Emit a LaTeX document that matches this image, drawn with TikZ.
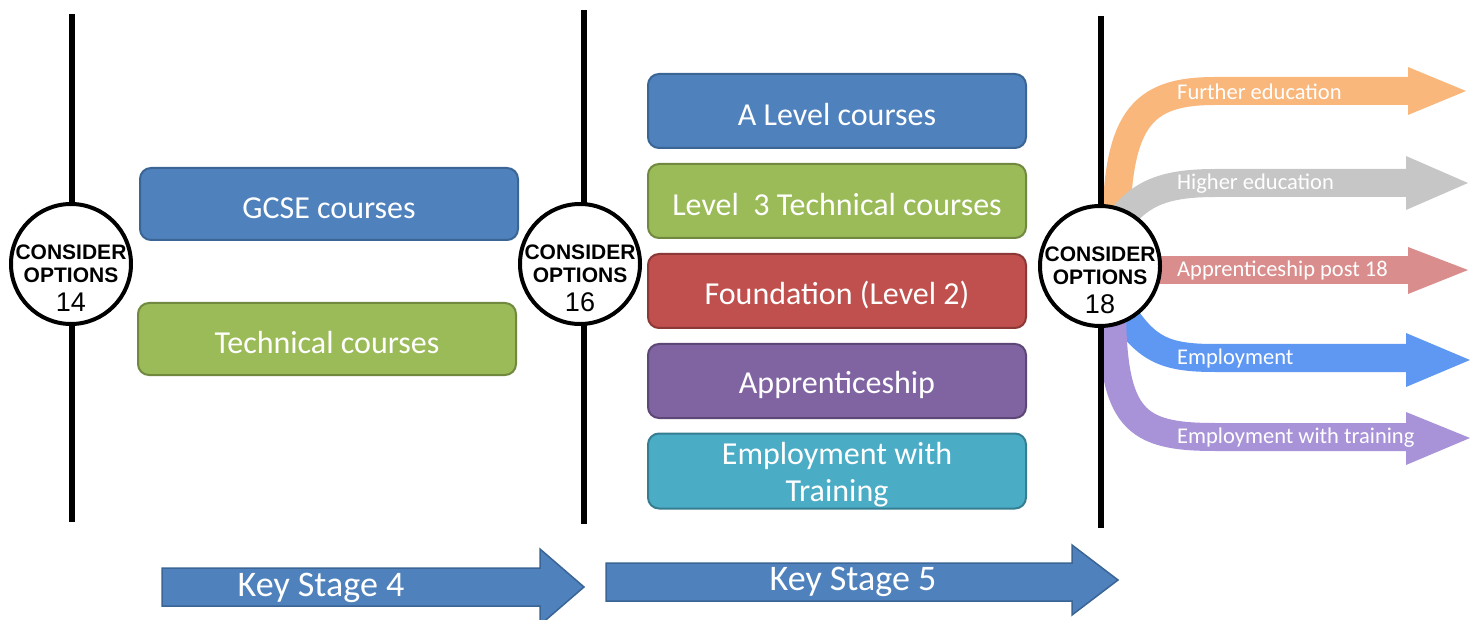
\documentclass[tikz,border=0pt]{standalone}
\usepackage{fontspec}
\setmainfont{Carlito}
\newfontfamily\arialfont{Liberation Sans}
\usetikzlibrary{positioning}
\definecolor{cBlue}{HTML}{4F81BD}\definecolor{cBlueB}{HTML}{3A6595}
\definecolor{cGreen}{HTML}{9BBB59}\definecolor{cGreenB}{HTML}{71893F}
\definecolor{cRed}{HTML}{C0504D}\definecolor{cRedB}{HTML}{8C3836}
\definecolor{cPurple}{HTML}{8064A2}\definecolor{cPurpleB}{HTML}{5C4776}
\definecolor{cTeal}{HTML}{4BACC6}\definecolor{cTealB}{HTML}{357D91}
\definecolor{aOrange}{HTML}{F9B77C}
\definecolor{aGray}{HTML}{C6C6C6}
\definecolor{aPink}{HTML}{D98D8C}
\definecolor{aBlue}{HTML}{5E98F2}
\definecolor{aLav}{HTML}{A892D8}
\newcommand{\dn}[1]{\raisebox{-4pt}[\height][\depth]{#1}}
\begin{document}
\begin{tikzpicture}[x=1pt,y=-1pt,
  box/.style={rounded corners=11pt, line width=2pt, minimum width=378pt, minimum height=74pt,
    text=white, font=\fontsize{32}{38}\selectfont, align=center, inner sep=0pt},
  timeline/.style={line width=6pt, black},
  optcircle/.style={circle, draw=black, line width=4pt, fill=white, minimum size=120pt, inner sep=0pt},
  band/.style={line width=28pt},
  bandtext/.style={anchor=west, text=white, font=\fontsize{22.5}{24}\selectfont, inner sep=0pt},
  ksarrow/.style={fill=cBlue, draw=cBlueB, line width=1.5pt},
  kstext/.style={text=white, font=\fontsize{36}{38}\selectfont, inner sep=0pt},
  ctext/.style={font=\arialfont\bfseries\fontsize{21}{22}\selectfont, inner sep=0pt},
  cnum/.style={font=\arialfont\fontsize{27}{28}\selectfont, inner sep=0pt}
]
\useasboundingbox (0,0) rectangle (1470,620);

% ---- right-hand branching arrows ----
\draw[band, aOrange] (1116,240) .. controls (1116,120) and (1140,91) .. (1215,91) -- (1412,91);
\fill[aOrange] (1408,67) -- (1466,91) -- (1408,115) -- cycle;
\draw[band, aGray] (1112,232) .. controls (1135,195) and (1160,183) .. (1215,183) -- (1412,183);
\fill[aGray] (1406,156) -- (1468,183) -- (1406,210) -- cycle;
\draw[band, aPink] (1140,270) -- (1412,270);
\fill[aPink] (1408,247) -- (1468,270) -- (1408,294) -- cycle;
\draw[band, aBlue] (1118,305) .. controls (1145,350) and (1165,358) .. (1215,358) -- (1412,358);
\fill[aBlue] (1406,333) -- (1470,360) -- (1406,387) -- cycle;
\draw[band, aLav] (1112,305) .. controls (1112,420) and (1135,437) .. (1215,437) -- (1412,437);
\fill[aLav] (1406,412) -- (1470,438) -- (1406,465) -- cycle;
\node[bandtext] (fe) at (1177,92) {Further education};
\node[bandtext] (he) at (1177,184) {Higher education};
\node[bandtext] (ap) at (1177,271) {Apprenticeship post 18};
\node[bandtext] (em) at (1177,359) {Employment};
\node[bandtext] (ew) at (1177,438) {Employment with training};

% ---- timelines ----
\coordinate (l1t) at (72,14); \coordinate (l1b) at (72,522);
\coordinate (l2t) at (584,10); \coordinate (l2b) at (584,524);
\coordinate (l3t) at (1101,16); \coordinate (l3b) at (1101,528);
\draw[timeline] (l1t) -- (l1b);
\draw[timeline] (l2t) -- (l2b);
\draw[timeline] (l3t) -- (l3b);

% ---- circles ----
\node[optcircle] (c14) at (71,264) {};
\node[optcircle] (c16) at (580,264) {};
\node[optcircle] (c18) at (1100,266) {};
\foreach \n/\num in {c14/14, c16/16, c18/18}{
  \node[ctext] at ([yshift=12pt]\n.center) {CONSIDER};
  \node[ctext] at ([yshift=-11pt]\n.center) {OPTIONS};
  \node[cnum] at ([yshift=-38pt]\n.center) {\num};
}

% ---- boxes ----
\node[box, fill=cBlue, draw=cBlueB, minimum height=72pt] (gcse) at (329,204) {\dn{GCSE courses}};
\node[box, fill=cGreen, draw=cGreenB, minimum height=72pt] (tech) at (327,339) {\dn{Technical courses}};
\node[box, fill=cBlue, draw=cBlueB] (alev) at (837,111) {\dn{A Level courses}};
\node[box, fill=cGreen, draw=cGreenB] (l3) at (837,201) {\dn{Level\ \ 3 Technical courses}};
\node[box, fill=cRed, draw=cRedB] (found) at (837,291) {\dn{Foundation (Level 2)}};
\node[box, fill=cPurple, draw=cPurpleB] (appr) at (837,381) {\dn{Apprenticeship}};
\node[box, fill=cTeal, draw=cTealB] (ewt) at (837,471) {\dn{\begin{tabular}{@{}c@{}}Employment with\\[-1pt]Training\end{tabular}}};

% ---- key stage arrows ----
\draw[ksarrow] (162,568) -- (540,568) -- (540,549) -- (584,587) -- (540,625) -- (540,606) -- (162,606) -- cycle;
\node[kstext] (ks4) at (321,588) {Key Stage 4};
\draw[ksarrow] (606,563) -- (1072,563) -- (1072,545) -- (1118,580) -- (1072,615) -- (1072,601) -- (606,601) -- cycle;
\node[kstext] (ks5) at (853,582) {Key Stage 5};
\end{tikzpicture}
\end{document}
